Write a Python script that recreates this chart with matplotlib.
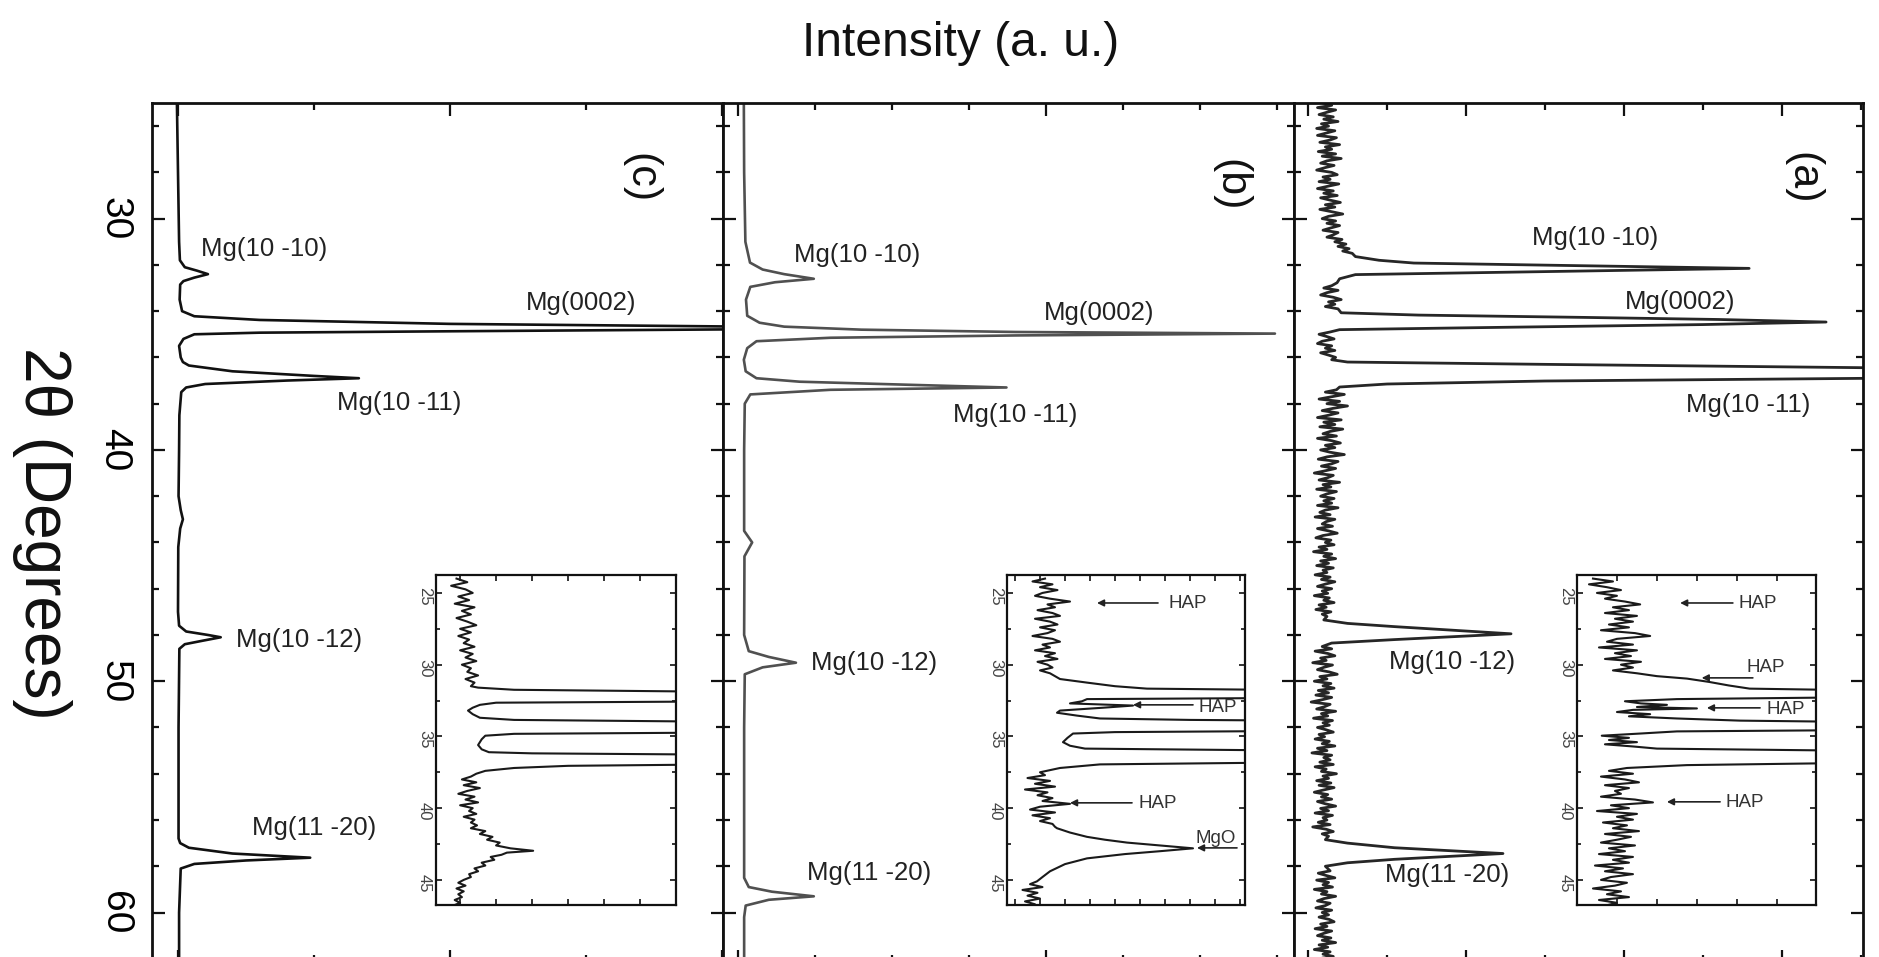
import numpy as np
import matplotlib
matplotlib.use("Agg")
import matplotlib.pyplot as plt
from matplotlib.ticker import MultipleLocator

# ---------------------------------------------------------------- data
# 2-theta (deg) and intensity (a.u.).
# Noise runs are given as (start 2theta, values, step in deg).

# panel (c) - smooth pattern
C_TT = [25.0, 28.0, 31.0, 31.8, 32.1, 32.25, 32.4, 32.55, 32.7, 32.85, 33.5, 34.0, 34.22, 34.38,
        34.55, 34.66, 34.72, 34.79, 34.87, 34.93, 35.0, 35.2, 35.5, 36.0, 36.2, 36.35, 36.6, 36.8,
        36.9, 37.0, 37.15, 37.3, 37.5, 38.5, 40.0, 42.0, 42.6, 43.0, 43.4, 44.2, 47.0, 47.6, 47.85,
        48.0, 48.1, 48.25, 48.4, 48.6, 52.0, 56.8, 57.0, 57.2, 57.45, 57.63, 57.75, 57.9, 58.1,
        60.0, 62.5]
C_I = [-4, 0, 4, 7, 25, 70, 110, 60, 20, 8, 6, 15, 60, 300, 1000, 2000, 2600, 2000, 1000, 300,
       60, 20, 4, 10, 18, 40, 200, 500, 665, 400, 100, 30, 12, 5, 4, 2, 10, 18, 8, 1, 0, 4, 30,
       110, 157, 90, 25, 5, 2, 2, 8, 40, 200, 486, 250, 60, 10, 4, 4]

# panel (b) - smooth pattern
B_TT = [25.0, 28.0, 31.0, 31.9, 32.2, 32.4, 32.6, 32.75, 32.95, 33.5, 34.2, 34.5, 34.67, 34.8,
        34.9, 34.97, 35.05, 35.15, 35.3, 35.6, 36.1, 36.6, 36.9, 37.05, 37.2, 37.3, 37.4, 37.6,
        38.0, 40.0, 43.5, 44.0, 44.6, 48.0, 48.7, 48.95, 49.2, 49.4, 49.7, 52.0, 58.5, 58.9, 59.1,
        59.3, 59.45, 59.7, 60.2, 62.5]
B_I = [19, 20, 24, 39, 80, 150, 246, 120, 40, 26, 30, 70, 150, 400, 900, 1742, 900, 300, 60,
       30, 19, 25, 60, 200, 600, 871, 300, 40, 22, 20, 20, 46, 21, 20, 35, 100, 188, 80, 22, 20,
       20, 35, 110, 246, 100, 25, 20, 20]

# panel (a) - noisy pattern
A_NOISE_1 = (25.0, [95, 150, 60, 175, 120, 70, 160, 100, 190, 85, 130, 55, 170, 115, 60, 180, 140,
                    75, 200, 110, 150, 65, 175, 90, 210, 120, 80, 165, 105, 55, 150, 185, 95, 140,
                    70, 195, 125, 60, 160, 100, 185, 80, 140, 205, 110, 170, 75, 150, 220, 130, 90,
                    175, 120, 200, 145, 95, 190, 160, 120, 215, 170, 240, 190, 260, 220, 280], 0.1)
A_PEAK_1010 = ([31.64, 31.8, 31.92, 32.03, 32.15, 32.28, 32.42, 32.6, 32.77],
               [300, 450, 670, 1700, 2792, 1600, 300, 200, 184])
A_NOISE_2 = (32.9, [150, 100, 190, 120, 80, 160, 210, 130, 170, 110, 190], 0.1)
A_PEAK_0002 = ([34.07, 34.17, 34.27, 34.36, 34.47, 34.58, 34.65, 34.73, 34.8],
               [210, 700, 1750, 2600, 3279, 2500, 1750, 900, 200])
A_NOISE_3 = (34.9, [140, 70, 120, 165, 90, 60, 150, 110, 170, 80, 130, 175, 150], 0.1)
A_PEAK_1011 = ([36.2, 36.3, 36.45, 36.6, 36.68, 36.78, 36.9, 37.02, 37.15, 37.28],
               [250, 1500, 3600, 5200, 5600, 5200, 3600, 1500, 500, 200])
A_NOISE_4 = (37.4, [180, 110, 230, 150, 70, 200, 120, 250, 160, 90, 190, 130, 60, 210, 100, 170,
                    75, 220, 140, 95, 180, 60, 150, 205, 110, 170, 80, 140, 230, 120, 65, 190, 150,
                    85, 175, 110, 40, 160, 125, 70, 200, 95, 145, 55, 180, 120, 80, 165, 100, 150,
                    60, 190, 110, 75, 140, 45, 170, 115, 90, 155, 60, 130, 185, 95, 50, 145, 110,
                    165, 70, 120, 35, 150, 100, 175, 80, 130, 55, 160, 95, 120, 45, 140, 85, 170,
                    110, 60, 150, 90, 125, 40, 135, 100, 165, 70, 115, 50, 145, 90, 120], 0.1)
A_PEAK_1012 = ([47.35, 47.5, 47.64, 47.95, 48.2, 48.35], [100, 250, 548, 1285, 548, 150])
A_NOISE_5 = (48.5, [90, 150, 45, 125, 170, 80, 115, 30, 155, 100, 60, 135, 185, 75, 120, 40, 145,
                    95, 165, 65, 130, 50, 150, 90, 20, 140, 105, 55, 175, 85, 125, 35, 155, 95,
                    135, 60, 115, 160, 70, 105, 45, 135, 90, 170, 60, 120, 25, 150, 100, 140, 75,
                    160, 45, 115, 85, 180, 95, 130, 55, 145, 70, 165, 100, 40, 125, 85, 150, 60,
                    110, 175, 80, 130, 45, 155, 95, 120, 65, 140, 30, 115, 160, 90, 130], 0.1)
A_PEAK_1120 = ([56.85, 57.0, 57.2, 57.45, 57.7, 57.85, 58.0], [110, 250, 548, 1234, 548, 250, 110])
A_NOISE_6 = (58.2, [140, 65, 115, 170, 55, 130, 95, 155, 40, 120, 85, 175, 100, 60, 140, 110, 50,
                    150, 90, 130, 70, 135, 165, 80, 120, 45, 150, 100, 60, 145, 90, 175, 70, 125,
                    40, 140, 95, 160, 65, 115, 150, 80, 130], 0.1)

# inset (c)
IC_NOISE_1 = (24.0, [-10, 20, -25, 15, 35, -5, 25, -15, 40, 5, 30, -10, 20, 45, 0, 30, -5, 25, 10,
                     40, 0, 35, 15, 45, 5, 30, 20, 50, 15, 40, 30], 0.25)
IC_PEAKS = ([31.6, 31.75, 31.86, 32.0, 32.27, 32.5, 32.58, 32.65, 32.8, 33.0, 33.2, 33.45, 33.7,
             33.85, 33.95, 34.1, 34.35, 34.65, 34.75, 34.82, 34.95, 35.2, 35.6, 35.9, 36.1, 36.18,
             36.25, 36.4, 36.6, 36.85, 36.98, 37.05, 37.2, 37.4, 37.6],
            [50, 150, 600, 3000, 9000, 3000, 600, 100, 55, 35, 22, 35, 55, 150, 600, 3000, 10000,
             3000, 600, 150, 70, 60, 50, 60, 80, 200, 600, 3000, 9000, 3000, 600, 300, 150, 70, 45])
IC_NOISE_2 = (37.8, [30, 5, 45, 10, 55, 20, -5, 40, 15, 50, 0, 35, 25, 45, 10, 40, 30], 0.2)
IC_MGO = ([41.2, 41.4, 41.6, 41.8, 42.0, 42.2, 42.4, 42.6, 42.8, 42.97, 43.1, 43.25, 43.4, 43.6,
           43.8, 44.0, 44.2, 44.4, 44.6, 44.8],
          [47, 30, 70, 55, 90, 75, 110, 100, 140, 203, 130, 115, 85, 95, 60, 70, 40, 50, 25, 30])
IC_NOISE_3 = (45.0, [10, -5, 15, -10, 10, -5, 5, -15, 0, -20, -10], 0.2)

# inset (b)
IB_NOISE_1 = (24.0, [10, -15, 25, 0, 35, 5, -10, 20, 60, 15, 30, -5, 25, 40, -10, 20, 35, 0, 30,
                     15, -15, 25, 40, 5, 20, -10, 30, 10, 35, -5, 15, 25, 0, 20, 30, 40], 0.2)
IB_PEAKS = ([31.25, 31.5, 31.67, 31.8, 32.0, 32.1, 32.3, 32.4, 32.55, 32.7, 32.85, 33.0, 33.2,
             33.35, 33.55, 33.75, 33.85, 33.92, 34.25, 34.6, 34.7, 34.8, 35.1, 35.4, 35.65, 35.85,
             35.95, 36.05, 36.4, 36.75, 36.85, 36.95, 37.2, 37.5],
            [94, 150, 214, 600, 3000, 5000, 600, 94, 84, 60, 186, 126, 40, 34, 74, 120, 300, 600,
             6000, 600, 150, 66, 55, 46, 60, 90, 400, 1000, 7000, 1000, 400, 120, 40, 0])
IB_NOISE_2 = (37.7, [10, -25, 20, -10, 30, -30, 15, -5, 25, 5, 60, 0, -20, 30, -15, 20, 0, 25, 30],
              0.2)
IB_MGO = ([41.4, 41.7, 42.0, 42.2, 42.4, 42.6, 42.8, 43.0, 43.2, 43.5, 43.9, 44.4, 44.8, 45.1],
          [34, 60, 94, 130, 174, 240, 306, 240, 170, 94, 50, 20, 5, -6])
IB_NOISE_3 = (45.3, [-20, 5, -35, -5, -25, 0, -30, -10, -40], 0.2)

# inset (a)
IA_NOISE_1 = (24.0, [40, 90, 30, 75, 110, 50, 100, 70, 120, 158, 90, 130, 70, 150, 95, 140, 80,
                     130, 60, 145, 183, 100, 75, 140, 55, 150, 95, 135, 70, 160, 110, 140, 90,
                     150], 0.2)
IA_PEAKS = ([30.8, 30.97, 31.2, 31.45, 31.67, 31.74, 31.9, 32.05, 32.3, 32.4, 32.55, 32.7, 32.8,
             32.95, 33.05, 33.15, 33.3, 33.45, 33.6, 33.75, 33.9, 33.96, 34.25, 34.58, 34.65,
             34.8, 34.95, 35.1, 35.25, 35.4, 35.55, 35.7, 35.85, 35.97, 36.4, 36.88, 37.0, 37.2],
            [200, 275, 330, 380, 432, 600, 2500, 4000, 600, 250, 120, 160, 225, 150, 300, 140,
             100, 183, 130, 250, 408, 600, 6000, 600, 250, 158, 62, 130, 80, 150, 70, 140, 200,
             600, 6000, 600, 275, 125])
IA_NOISE_2 = (37.4, [80, 140, 60, 120, 155, 70, 130, 95, 110, 60, 145, 190, 85, 130, 50, 150, 100,
                     140, 65, 125, 90, 155, 70, 135, 100, 60, 145, 80, 120, 55, 140, 90, 130, 45,
                     115, 70, 140, 85, 60, 125, 95, 40, 110, 75, 130, 55, 100, 70, 90], 0.2)

PEAK_LABEL = ["Mg(10 -10)", "Mg(0002)", "Mg(10 -11)", "Mg(10 -12)", "Mg(11 -20)"]
PANEL_NAMES = ["(c)", "(b)", "(a)"]
INSET_TICKS = [25, 30, 35, 40, 45]


def noise(start, vals, step):
    return [round(start + i * step, 3) for i in range(len(vals))], list(vals)


def build(*parts):
    tt, ii = [], []
    for p in parts:
        if isinstance(p[0], (int, float)):
            t, v = noise(*p)
        else:
            t, v = p
        assert len(t) == len(v)
        tt += list(t)
        ii += list(v)
    return np.array(tt), np.array(ii, dtype=float)


A_TT, A_I = build(A_NOISE_1, A_PEAK_1010, A_NOISE_2, A_PEAK_0002, A_NOISE_3, A_PEAK_1011,
                  A_NOISE_4, A_PEAK_1012, A_NOISE_5, A_PEAK_1120, A_NOISE_6)
IC_TT, IC_I = build(IC_NOISE_1, IC_PEAKS, IC_NOISE_2, IC_MGO, IC_NOISE_3)
IB_TT, IB_I = build(IB_NOISE_1, IB_PEAKS, IB_NOISE_2, IB_MGO, IB_NOISE_3)
IA_TT, IA_I = build(IA_NOISE_1, IA_PEAKS, IA_NOISE_2)
assert len(C_TT) == len(C_I) and len(B_TT) == len(B_I)

# ---------------------------------------------------------------- figure
W, H = 1879, 957
plt.rcParams["font.family"] = ["Liberation Sans", "DejaVu Sans"]
fig = plt.figure(figsize=(W / 100, H / 100), dpi=100)


def fx(x):
    return x / W


def fy(y):
    return 1 - y / H


def rect(x0, y0, x1, y1):
    return [fx(x0), fy(y1), (x1 - x0) / W, (y1 - y0) / H]


YLIM = (62.14, 25.0)
main_specs = [
    # rect px, xlim, major, minor, data, color, lw
    ((152, 103, 723, 962), (-95.6, 2003.7), 1000, 500, (C_TT, C_I), "#111111", 1.9),
    ((723, 103, 1294, 962), (-48.6, 1803.8), 1000, 250, (B_TT, B_I), "#505050", 1.9),
    ((1294, 103, 1863, 962), (-88.6, 3512.7), 1000, 500, (A_TT, A_I), "#262626", 2.0),
]
axes = []
for i, (r, xl, mj, mn, (tt, ii), col, lw) in enumerate(main_specs):
    ax = fig.add_axes(rect(*r))
    ax.plot(ii, tt, color=col, lw=lw, solid_joinstyle="round")
    ax.set_xlim(*xl)
    ax.set_ylim(*YLIM)
    ax.xaxis.set_major_locator(MultipleLocator(mj))
    ax.xaxis.set_minor_locator(MultipleLocator(mn))
    ax.yaxis.set_major_locator(MultipleLocator(10))
    ax.yaxis.set_minor_locator(MultipleLocator(2))
    ax.tick_params(which="both", direction="in", top=True, bottom=True, left=True, right=True,
                   labelbottom=False, labelleft=(i == 0), width=1.6, color="#111")
    ax.tick_params(which="major", length=9)
    ax.tick_params(which="minor", length=5)
    for s in ax.spines.values():
        s.set_linewidth(2.0)
        s.set_color("#111")
    axes.append(ax)

axes[0].tick_params(axis="y", labelrotation=-90, labelsize=28, pad=14)
for lab in axes[0].get_yticklabels():
    lab.set_va("center")

# insets
inset_specs = [
    ((436, 575, 676, 905), (-67, 600), 100, (IC_TT, IC_I)),
    ((1007, 575, 1245, 905), (-66, 410), 50, (IB_TT, IB_I)),
    ((1577, 575, 1816, 905), (0, 598), 100, (IA_TT, IA_I)),
]
insets = []
for r, xl, mj, (tt, ii) in inset_specs:
    ax = fig.add_axes(rect(*r))
    ax.plot(ii, tt, color="#1a1a1a", lw=1.5)
    ax.set_xlim(*xl)
    ax.set_ylim(46.75, 23.75)
    ax.xaxis.set_major_locator(MultipleLocator(mj))
    ax.set_yticks(INSET_TICKS)
    ax.yaxis.set_minor_locator(MultipleLocator(2.5))
    ax.tick_params(which="both", direction="in", top=True, bottom=True, left=True, right=True,
                   labelbottom=False, width=1.2, color="#111")
    ax.tick_params(which="major", length=4)
    ax.tick_params(which="minor", length=3)
    ax.tick_params(axis="y", labelrotation=-90, labelsize=12, labelcolor="#444", pad=3)
    for s in ax.spines.values():
        s.set_linewidth(1.6)
        s.set_color("#111")
    insets.append(ax)


def arrow(ax, label, tip, tail, text_xy, ha="left"):
    ax.annotate("", xy=tip, xytext=tail,
                arrowprops=dict(arrowstyle="-|>", color="#222", lw=1.2, mutation_scale=10,
                                shrinkA=0, shrinkB=0))
    ax.text(text_xy[0], text_xy[1], label, fontsize=13.5, color="#333", ha=ha, va="center")


ib, ia = insets[1], insets[2]
arrow(ib, "HAP", (114, 25.7), (236, 25.7), (258, 25.75))
arrow(ib, "HAP", (186, 32.8), (306, 32.8), (318, 32.95))
arrow(ib, "HAP", (60, 39.63), (184, 39.63), (198, 39.7))
arrow(ib, "MgO", (314, 42.77), (394, 42.77), (352, 42.1), ha="center")
arrow(ia, "HAP", (258, 25.7), (390, 25.7), (405, 25.75))
arrow(ia, "HAP", (312, 30.92), (440, 30.92), (425, 30.2))
arrow(ia, "HAP", (325, 33.01), (458, 33.01), (474, 33.1))
arrow(ia, "HAP", (225, 39.56), (358, 39.56), (372, 39.6))

# peak labels (pixel positions: left x, centre y)
label_pos = [
    [(201, 249), (526, 303), (337, 403), (236, 640), (252, 828)],
    [(794, 255), (1044, 313), (953, 415), (811, 663), (807, 873)],
    [(1532, 238), (1625, 302), (1686, 405), (1389, 662), (1385, 875)],
]
for pos in label_pos:
    for txt, (x, y) in zip(PEAK_LABEL, pos):
        fig.text(fx(x), fy(y), txt, fontsize=18.5, color="#222", ha="left", va="center")

for name, (x, y) in zip(PANEL_NAMES, [(640, 178), (1230, 185), (1802, 178)]):
    fig.text(fx(x), fy(y), name, fontsize=31, rotation=-90, ha="center", va="center",
             color="#111")

fig.text(fx(961), fy(43), "Intensity (a. u.)", fontsize=34.5, ha="center", va="center",
         color="#111")
fig.text(fx(42), fy(533), "2\u03b8 (Degrees)", fontsize=46, rotation=-90, ha="center",
         va="center", color="#111")

fig.savefig("out.png", dpi=100)
